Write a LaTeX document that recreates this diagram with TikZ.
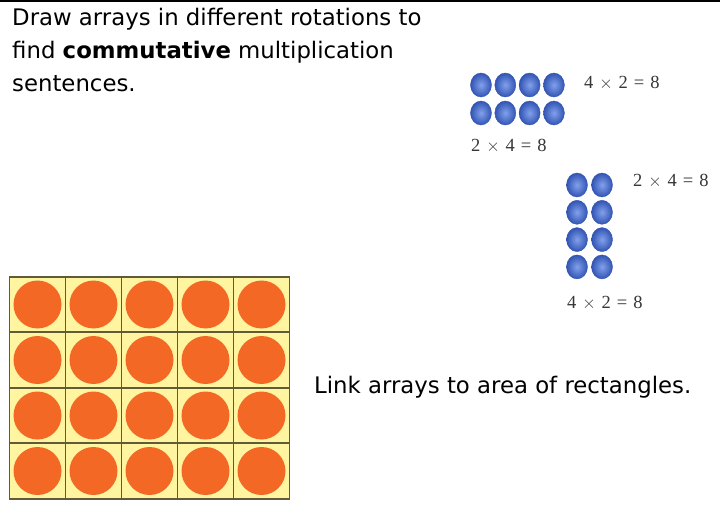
\documentclass[tikz,border=0pt]{standalone}
\usepackage{fontspec}
\setmainfont{DejaVu Sans}
\newfontfamily\eqfont{Liberation Serif}
\begin{document}
\begin{tikzpicture}[x=1pt,y=-1pt,
  cell/.style={draw=gridline,line width=1.8pt,fill=cellyellow,minimum width=56pt,minimum height=55.5pt,inner sep=0pt,outer sep=0pt},
  orangedot/.style={circle,fill=dotorange,minimum size=48pt,inner sep=0pt},
  bluedot/.style={ellipse,inner sep=0pt,minimum width=21pt,minimum height=24pt,draw=bluedark,line width=0.4pt,inner color=bluelight,outer color=bluedark},
  eq/.style={font=\eqfont\fontsize{18.5}{20}\selectfont,text=eqgray,inner sep=0pt,anchor=base west},
  maintext/.style={font=\fontsize{22.8}{27}\selectfont,inner sep=0pt,anchor=base west}]
\usetikzlibrary{shapes.geometric}
\definecolor{gridline}{RGB}{95,90,55}
\definecolor{cellyellow}{RGB}{255,244,160}
\definecolor{dotorange}{RGB}{242,104,36}
\definecolor{bluelight}{RGB}{130,160,235}
\definecolor{bluedark}{RGB}{50,85,180}
\definecolor{eqgray}{RGB}{55,55,55}
\newcommand{\eqsp}{\hspace{0.32em}}
\useasboundingbox (0,0) rectangle (720,505);
\fill[white] (0,0) rectangle (720,505);
\coordinate (tl) at (0,1);
\coordinate (tr) at (720,1);
\draw[line width=1.5pt] (tl) -- (tr);
% title text
\node[maintext] (t1) at (12,26) {Draw arrays in different rotations to};
\node[maintext] (t2) at (12,59) {find \textbf{commutative} multiplication};
\node[maintext] (t3) at (12,92) {sentences.};
\node[maintext] (t4) at (314,393) {Link arrays to area of rectangles.};
% grid
\foreach \r in {0,...,3}{
  \foreach \c in {0,...,4}{
    \node[cell] (c\r\c) at ({37.5+\c*56},{304.5+\r*55.5}) {};
    \node[orangedot] (o\r\c) at (c\r\c.center) {};
  }
}
% blue arrays
\foreach \r in {0,1}{
  \foreach \c in {0,...,3}{
    \node[bluedot] (a\r\c) at ({481+\c*24.3},{85+\r*28}) {};
  }
}
\foreach \r in {0,...,3}{
  \foreach \c in {0,1}{
    \node[bluedot] (b\r\c) at ({577+\c*25},{185+\r*27.3}) {};
  }
}
\node[eq] (e1) at (584,89) {4\eqsp$\times$\eqsp2\eqsp=\eqsp8};
\node[eq] (e2) at (471,152) {2\eqsp$\times$\eqsp4\eqsp=\eqsp8};
\node[eq] (e3) at (633,187) {2\eqsp$\times$\eqsp4\eqsp=\eqsp8};
\node[eq] (e4) at (567,308) {4\eqsp$\times$\eqsp2\eqsp=\eqsp8};
\end{tikzpicture}
\end{document}
